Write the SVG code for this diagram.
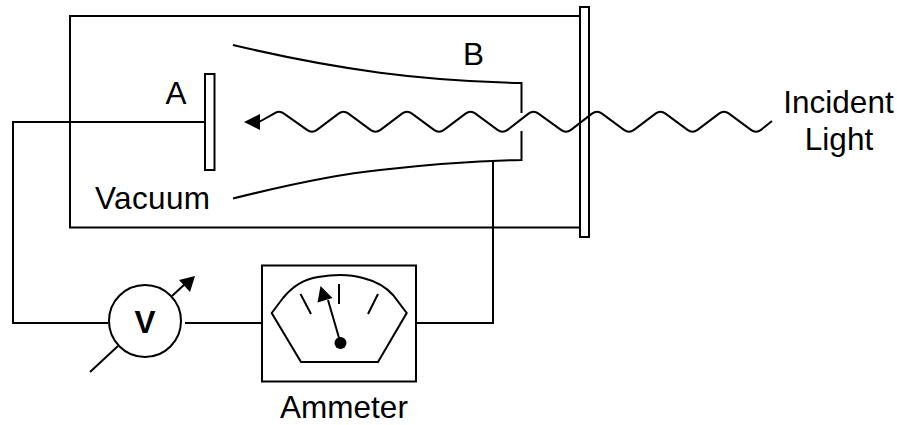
<svg xmlns="http://www.w3.org/2000/svg" width="897" height="425" viewBox="0 0 897 425">
<style>
.l{fill:none;stroke:#000;stroke-width:2}
.w{fill:#fff;stroke:#000;stroke-width:2}
.t{font-family:"Liberation Sans",Arial,sans-serif;font-size:31.5px;fill:#000}
.b{font-weight:bold;text-anchor:middle}
.c{text-anchor:middle}
.h{fill:#000;stroke:none}
</style>
<rect width="897" height="425" fill="#fff"/>
<g id="connectors">
<path class="l" d="M205 122H13V323H108"/>
<path class="l" d="M185 323H262"/>
<path class="l" d="M416 323H493V160"/>
<path class="l" d="M90 372L118 346"/>
<path class="l" d="M172 296L185 284"/>
<path class="h" d="M195 276L179 280L190 292Z"/>
</g>
<g id="tube">
<path class="l" d="M580 16H70V227.500H580"/>
</g>
<g id="window">
<rect class="w" x="580" y="7" width="9" height="230"/>
</g>
<g id="plate-a">
<rect class="w" x="205" y="74" width="9.500" height="96"/>
<text class="t" x="165.500" y="104">A</text>
</g>
<g id="electrode-b">
<path class="l" d="M233 45C275 55 330 66 380 72.700C420 78 470 82 521.500 83V113"/>
<path class="l" d="M233 198.500C275 188 330 175 380 170C420 165.500 470 161 521.500 160V131"/>
<text class="t" x="463" y="65">B</text>
</g>
<g id="vacuum">
<text class="t" x="95" y="209" textLength="115">Vacuum</text>
</g>
<g id="light">
<path class="h" d="M244 122L260 114V130Z"/>
<path class="l" d="M259 122L274 113.650Q279 109.900 284 113.650L307 129.850Q312 133.600 317 129.850L338.500 113.650Q343.500 109.900 348.500 113.650L370.500 129.850Q375.500 133.600 380.500 129.850L402 113.650Q407 109.900 412 113.650L434 129.850Q439 133.600 444 129.850L465.500 113.650Q470.500 109.900 475.500 113.650L497.500 129.850Q502.500 133.600 507.500 129.850L528.500 113.650Q533.500 109.900 538.500 113.650L561 129.850Q566 133.600 571 129.850L592 113.650Q597 109.900 602 113.650L624 129.850Q629 133.600 634 129.850L655.500 113.650Q660.500 109.900 665.500 113.650L687.500 129.850Q692.500 133.600 697.500 129.850L719 113.650Q724 109.900 729 113.650L751 129.850Q756 133.600 761 129.850L772 121"/>
<text class="t c" x="838.500" y="113">Incident</text>
<text class="t c" x="839" y="150">Light</text>
</g>
<g id="voltmeter">
<circle class="w" cx="145" cy="321" r="36"/>
<text class="t b" x="145" y="333">V</text>
</g>
<g id="ammeter">
<rect class="w" x="262" y="265.500" width="154" height="116"/>
<path class="l" d="M271.700 313L283 298C292 287 305 279 318 277C335 274 350 274 363 278C375 281 385 286 393 295L406.700 313L378 362H301Z"/>
<path class="l" d="M300.500 294L311 314M339 284V304M378 294L368 314"/>
<path class="l" d="M340.500 343L328 300"/>
<path class="h" d="M320.500 286L317.500 302.500L332.500 298Z"/>
<circle class="h" cx="340.500" cy="343" r="6"/>
<text class="t c" x="344" y="418">Ammeter</text>
</g>
</svg>
